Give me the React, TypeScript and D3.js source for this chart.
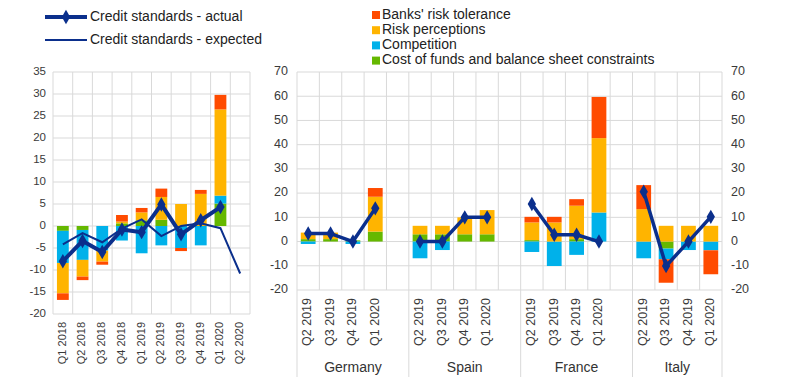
import * as d3 from 'd3'

// left panel: euro area
const quarters = ['Q1 2018', 'Q2 2018', 'Q3 2018', 'Q4 2018', 'Q1 2019', 'Q2 2019', 'Q3 2019', 'Q4 2019', 'Q1 2020', 'Q2 2020']
const eaCost = [-1.1, -0.9, 0, 0.6, 1.3, 1.4, 0, 0, 5.1, 0]
const eaCompetition = [-7.3, -6.8, -5.6, -3.3, -6.2, -4.4, -5.0, -4.4, 1.8, 0]
const eaRisk = [-6.9, -3.8, -2.5, 0.4, 1.8, 5.2, 5.0, 7.3, 19.6, 0]
const eaTolerance = [-1.5, -0.8, -0.7, 1.5, 1.0, 1.9, -0.7, 0.9, 3.3, 0]
const eaActual = [-8.0, -3.4, -5.9, -0.8, -1.4, 4.9, -1.9, 1.3, 4.3, null]
const eaExpected = [-4.2, -1.6, -3.7, -0.6, 1.5, -2.3, 0.0, 0.6, -0.5, -10.8]

// right panel: countries
const countries = ['Germany', 'Spain', 'France', 'Italy']
const countryQuarters = ['Q2 2019', 'Q3 2019', 'Q4 2019', 'Q1 2020']
const ctyCost = [[1.0, 1.0, 0.5, 4.1], [3.0, 3.0, 3.0, 3.0], [0.6, 0, 1.0, 0], [0, -2.9, 0, 0]]
const ctyCompetition = [[-1.0, 0, -1.0, 0], [-6.9, -3.5, 0, 0], [-4.3, -10.1, -5.5, 12.0], [-6.9, -4.4, -3.5, -3.6]]
const ctyRisk = [[2.7, 2.7, 0, 14.4], [3.5, 3.5, 7.0, 10.0], [7.3, 7.9, 13.8, 30.7], [13.4, 6.5, 6.5, 6.5]]
const ctyTolerance = [[0, 0, 0, 3.6], [0, 0, 0, 0], [2.3, 2.3, 2.7, 17.0], [9.9, -9.7, 0, -9.9]]
const ctyActual = [[3.3, 3.3, 0, 13.7], [0, 0, 10, 10], [15.5, 2.8, 2.8, 0], [20.6, -10.1, 0, 10.2]]

const leftTicks = d3.range(-20, 36, 5)
const rightTicks = d3.range(-20, 71, 10)

const KEYS = ['cost', 'competition', 'risk', 'tolerance']
const COLORS: Record<string, string> = {
  cost: '#65B800',
  competition: '#00B1EA',
  risk: '#FFB400',
  tolerance: '#FF4B00',
}
const LEGEND = [
  { key: 'tolerance', label: "Banks' risk tolerance" },
  { key: 'risk', label: 'Risk perceptions' },
  { key: 'competition', label: 'Competition' },
  { key: 'cost', label: 'Cost of funds and balance sheet constraints' },
]

const NAVY = '#0B2F8C'
const GRID = '#D9D9D9'
const FONT = '"Liberation Sans", Arial, sans-serif'
const TICK_COLOR = '#3a3a3a'

const stack = d3.stack<any>().keys(KEYS).offset(d3.stackOffsetDiverging)
const diamond = d3.symbol().type(d3.symbolDiamond).size(60)

// left panel geometry
const L = { x0: 53, x1: 250, yTop: 72, yBot: 314 }
const xL = d3.scaleBand<string>().domain(quarters).range([L.x0, L.x1])
const yL = d3.scaleLinear().domain([-20, 35]).range([L.yBot, L.yTop])

// right panel geometry: 4 quarters per country, blank slot between countries
const R = { x0: 297, x1: 722, yTop: 72, yBot: 290 }
type Slot = { id: string; ci: number; qi: number }
const slots: Slot[] = []
countries.forEach((c, ci) => {
  countryQuarters.forEach((q, qi) => slots.push({ id: `${c}|${q}`, ci, qi }))
  if (ci < countries.length - 1) slots.push({ id: `${c}|gap`, ci, qi: -1 })
})
const xR = d3.scaleBand<string>().domain(slots.map((s) => s.id)).range([R.x0, R.x1])
const yR = d3.scaleLinear().domain([-20, 70]).range([R.yBot, R.yTop])

const eaRows = quarters.map((q, i) => ({
  q,
  cost: eaCost[i],
  competition: eaCompetition[i],
  risk: eaRisk[i],
  tolerance: eaTolerance[i],
}))
const eaSeries = stack(eaRows)

const ctyRows = slots
  .filter((s) => s.qi >= 0)
  .map((s) => ({
    q: s.id,
    cost: ctyCost[s.ci][s.qi],
    competition: ctyCompetition[s.ci][s.qi],
    risk: ctyRisk[s.ci][s.qi],
    tolerance: ctyTolerance[s.ci][s.qi],
  }))
const ctySeries = stack(ctyRows)

export default function App() {
  const bwL = xL.bandwidth() * 0.6
  const bwR = xR.bandwidth() * 0.66
  const cxL = (q: string) => (xL(q) ?? 0) + xL.bandwidth() / 2
  const cxR = (id: string) => (xR(id) ?? 0) + xR.bandwidth() / 2

  const lineL = d3
    .line<number | null>()
    .defined((d) => d != null)
    .x((_, i) => cxL(quarters[i]))
    .y((d) => yL(d as number))

  const actualPts = quarters
    .map((q, i) => ({ q, v: eaActual[i] }))
    .filter((d) => d.v != null)

  // group boundaries on the right axis
  const groupBounds = countries.map((c, ci) => {
    const start = xR(`${c}|${countryQuarters[0]}`) ?? 0
    const end = ci < countries.length - 1 ? xR(`${countries[ci + 1]}|${countryQuarters[0]}`) ?? 0 : R.x1
    return { c, start, end }
  })

  return (
    <svg
      width={800}
      height={385}
      style={{ position: 'absolute', left: 0, top: 0, background: '#fff' }}
      fontFamily={FONT}
    >
      {/* ---------- left panel ---------- */}
      <g>
        {leftTicks.map((t) => (
          <line key={t} x1={L.x0} x2={L.x1} y1={yL(t)} y2={yL(t)} stroke={GRID} />
        ))}
        {[...quarters.map((q) => xL(q) ?? 0), L.x1].map((x, i) => (
          <line key={i} x1={x} x2={x} y1={L.yTop} y2={L.yBot} stroke={GRID} />
        ))}
        {leftTicks.map((t) => (
          <text key={t} x={46} y={yL(t)} textAnchor="end" dominantBaseline="middle" fontSize={11.5} fill={TICK_COLOR}>
            {t}
          </text>
        ))}
        {eaSeries.map((s) => (
          <g key={s.key} fill={COLORS[s.key]}>
            {s.map((d, i) => {
              const h = Math.abs(yL(d[0]) - yL(d[1]))
              if (h < 0.01) return null
              return (
                <rect
                  key={i}
                  x={cxL(quarters[i]) - bwL / 2}
                  width={bwL}
                  y={Math.min(yL(d[0]), yL(d[1]))}
                  height={h}
                />
              )
            })}
          </g>
        ))}
        <path d={lineL(eaExpected) ?? ''} fill="none" stroke={NAVY} strokeWidth={2} />
        <path d={lineL(eaActual) ?? ''} fill="none" stroke={NAVY} strokeWidth={4} strokeLinejoin="round" />
        {actualPts.map((d) => (
          <path key={d.q} d={diamond() ?? ''} transform={`translate(${cxL(d.q)},${yL(d.v as number)})`} fill={NAVY} />
        ))}
        {quarters.map((q) => (
          <text
            key={q}
            transform={`translate(${cxL(q)},${L.yBot + 8}) rotate(-90)`}
            textAnchor="end"
            dominantBaseline="middle"
            fontSize={11}
            fill={TICK_COLOR}
          >
            {q}
          </text>
        ))}
      </g>

      {/* ---------- right panel ---------- */}
      <g>
        {rightTicks.map((t) => (
          <line key={t} x1={R.x0} x2={R.x1} y1={yR(t)} y2={yR(t)} stroke={GRID} />
        ))}
        {[...slots.map((s) => xR(s.id) ?? 0), R.x1].map((x, i) => (
          <line key={i} x1={x} x2={x} y1={R.yTop} y2={R.yBot} stroke={GRID} />
        ))}
        {groupBounds.map((g, i) => (
          <g key={g.c}>
            <line x1={g.start} x2={g.start} y1={R.yBot} y2={377} stroke={GRID} />
            {i === groupBounds.length - 1 && <line x1={g.end} x2={g.end} y1={R.yBot} y2={377} stroke={GRID} />}
            <text
              x={(g.start + g.end) / 2}
              y={368}
              textAnchor="middle"
              dominantBaseline="middle"
              fontSize={14}
              fill="#333"
            >
              {g.c}
            </text>
          </g>
        ))}
        {rightTicks.map((t) => (
          <g key={t}>
            <text x={288} y={yR(t)} textAnchor="end" dominantBaseline="middle" fontSize={12.5} fill={TICK_COLOR}>
              {t}
            </text>
            <text x={731} y={yR(t)} textAnchor="start" dominantBaseline="middle" fontSize={12.5} fill={TICK_COLOR}>
              {t}
            </text>
          </g>
        ))}
        {ctySeries.map((s) => (
          <g key={s.key} fill={COLORS[s.key]}>
            {s.map((d, i) => {
              const h = Math.abs(yR(d[0]) - yR(d[1]))
              if (h < 0.01) return null
              return (
                <rect
                  key={i}
                  x={cxR(ctyRows[i].q) - bwR / 2}
                  width={bwR}
                  y={Math.min(yR(d[0]), yR(d[1]))}
                  height={h}
                />
              )
            })}
          </g>
        ))}
        {countries.map((c, ci) => {
          const line = d3
            .line<number>()
            .x((_, i) => cxR(`${c}|${countryQuarters[i]}`))
            .y((d) => yR(d))
          return (
            <g key={c}>
              <path d={line(ctyActual[ci]) ?? ''} fill="none" stroke={NAVY} strokeWidth={3.5} strokeLinejoin="round" />
              {ctyActual[ci].map((v, i) => (
                <path
                  key={i}
                  d={diamond() ?? ''}
                  transform={`translate(${cxR(`${c}|${countryQuarters[i]}`)},${yR(v)})`}
                  fill={NAVY}
                />
              ))}
            </g>
          )
        })}
        {slots
          .filter((s) => s.qi >= 0)
          .map((s) => (
            <text
              key={s.id}
              transform={`translate(${cxR(s.id)},${R.yBot + 8}) rotate(-90)`}
              textAnchor="end"
              dominantBaseline="middle"
              fontSize={12.5}
              fill={TICK_COLOR}
            >
              {countryQuarters[s.qi]}
            </text>
          ))}
      </g>

      {/* ---------- legends ---------- */}
      <g>
        <line x1={45} x2={87} y1={17} y2={17} stroke={NAVY} strokeWidth={4} />
        <path d={diamond() ?? ''} transform="translate(66,17)" fill={NAVY} />
        <text x={90} y={17} dominantBaseline="middle" fontSize={14} fill="#222">
          Credit standards - actual
        </text>
        <line x1={45} x2={87} y1={40} y2={40} stroke={NAVY} strokeWidth={2} />
        <text x={90} y={40} dominantBaseline="middle" fontSize={14} fill="#222">
          Credit standards - expected
        </text>
      </g>
      <g>
        {LEGEND.map((l, i) => (
          <g key={l.key} transform={`translate(372,${15 + i * 15.2})`}>
            <rect x={0} y={-4} width={8} height={8} fill={COLORS[l.key]} />
            <text x={10} y={0} dominantBaseline="middle" fontSize={14} fill="#222">
              {l.label}
            </text>
          </g>
        ))}
      </g>
    </svg>
  )
}
